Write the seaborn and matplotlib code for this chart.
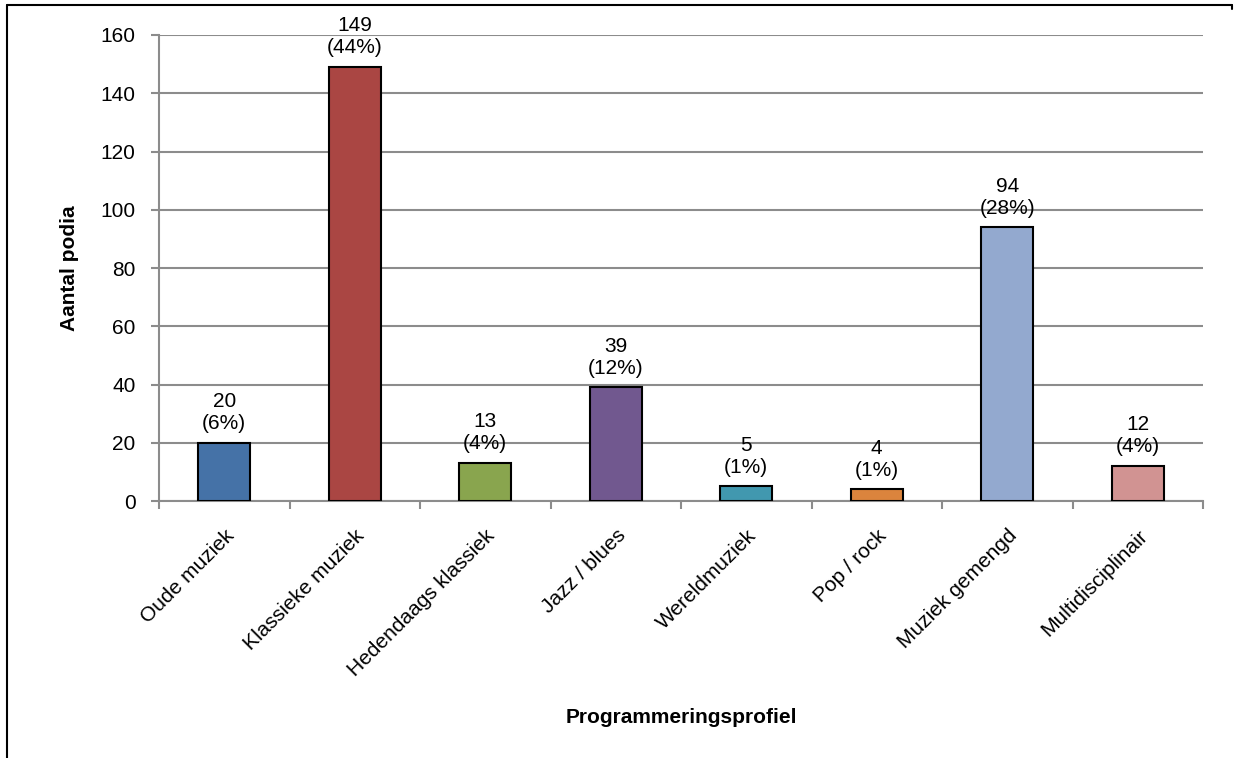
import matplotlib
matplotlib.use("Agg")
import matplotlib.pyplot as plt
from matplotlib.lines import Line2D
from matplotlib.ticker import FixedLocator
import seaborn as sns
import pandas as pd

categories = ["Oude muziek", "Klassieke muziek", "Hedendaags klassiek", "Jazz / blues",
              "Wereldmuziek", "Pop / rock", "Muziek gemengd", "Multidisciplinair"]
values = [20, 149, 13, 39, 5, 4, 94, 12]
percents = ["6%", "44%", "4%", "12%", "1%", "1%", "28%", "4%"]
colors = ["#4572A7", "#AA4643", "#89A54E", "#71588F", "#4198AF", "#DB843D", "#93A9CF", "#D19392"]
y_ticks = [0, 20, 40, 60, 80, 100, 120, 140, 160]
x_label = "Programmeringsprofiel"
y_label = "Aantal podia"

df = pd.DataFrame({"cat": categories, "val": values})

sns.set_theme(style="white")
plt.rcParams["font.family"] = ["Liberation Sans", "DejaVu Sans"]
plt.rcParams["text.color"] = "black"
plt.rcParams["axes.labelcolor"] = "black"
plt.rcParams["xtick.labelcolor"] = "black"
plt.rcParams["ytick.labelcolor"] = "black"

FS = 15

fig = plt.figure(figsize=(12.35, 7.58), dpi=100)
ax = fig.add_axes([159 / 1235, 1 - 501 / 758, (1203 - 159) / 1235, (501 - 35) / 758])

sns.barplot(data=df, x="cat", y="val", hue="cat", palette=colors, legend=False,
            saturation=1, width=0.4, edgecolor="black", linewidth=1.5, ax=ax, zorder=3)

ax.set_ylim(0, 160)
ax.set_xlim(-0.5, len(categories) - 0.5)
ax.set_yticks(y_ticks)
ax.yaxis.grid(True, color="#8c8c8c", linewidth=1.5, zorder=0)
ax.set_axisbelow(True)

for s in ["top", "right"]:
    ax.spines[s].set_visible(False)
for s in ["left", "bottom"]:
    ax.spines[s].set_color("#8c8c8c")
    ax.spines[s].set_linewidth(1.5)

ax.tick_params(axis="y", which="major", length=6, width=1.5, color="#8c8c8c",
               labelsize=FS, pad=11, left=True)
ax.tick_params(axis="x", which="major", length=0, labelsize=FS, pad=18)
ax.xaxis.set_minor_locator(FixedLocator([i - 0.5 for i in range(len(categories) + 1)]))
ax.tick_params(axis="x", which="minor", length=6, width=1.5, color="#8c8c8c", bottom=True)

ax.set_xticks(range(len(categories)))
ax.set_xticklabels(categories, rotation=45, ha="right", rotation_mode="anchor")

for i, (v, p) in enumerate(zip(values, percents)):
    ax.annotate(f"{v}\n({p})", xy=(i, v), xytext=(0, 7), textcoords="offset points",
                ha="center", va="bottom", fontsize=FS, linespacing=1.2, zorder=5)

ax.set_xlabel(x_label, fontsize=FS, fontweight="bold", labelpad=20)
ax.set_ylabel(y_label, fontsize=FS, fontweight="bold", labelpad=15)

# frame lines
fig.add_artist(Line2D([7 / 1235, 1232 / 1235], [1 - 5 / 758, 1 - 5 / 758],
                      color="black", linewidth=1.5, transform=fig.transFigure))
fig.add_artist(Line2D([7 / 1235, 7 / 1235], [1 - 5 / 758, 0],
                      color="black", linewidth=1.5, transform=fig.transFigure))
fig.add_artist(Line2D([1232 / 1235, 1232 / 1235], [1 - 5 / 758, 1 - 9 / 758],
                      color="black", linewidth=1.5, transform=fig.transFigure))

fig.savefig("out.png", dpi=100)
